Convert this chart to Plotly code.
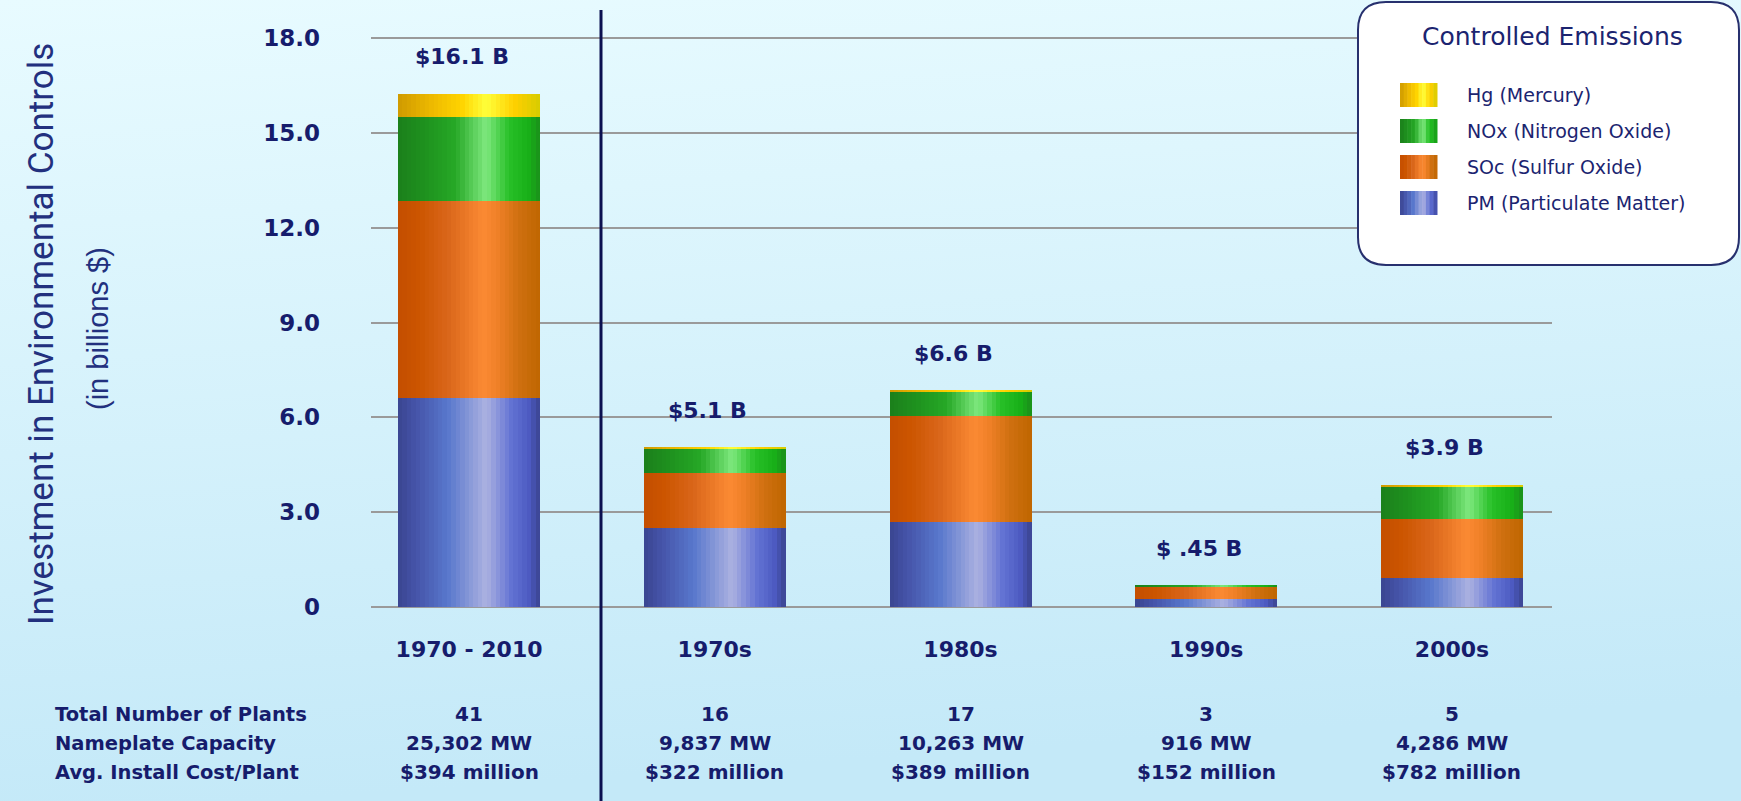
import base64
import numpy as np
import plotly.graph_objects as go

# ---------------- data ----------------
categories = ["1970 - 2010", "1970s", "1980s", "1990s", "2000s"]
pm = [6.60, 2.50, 2.69, 0.26, 0.93]
sox = [6.23, 1.73, 3.35, 0.36, 1.84]
nox = [2.67, 0.78, 0.77, 0.07, 1.04]
hg = [0.73, 0.04, 0.04, 0.00, 0.05]
series_names = ["PM (Particulate Matter)", "SOc (Sulfur Oxide)",
                "NOx (Nitrogen Oxide)", "Hg (Mercury)"]
total_labels = ["$16.1 B", "$5.1 B", "$6.6 B", "$ .45 B", "$3.9 B"]
plants = ["41", "16", "17", "3", "5"]
capacity = ["25,302 MW", "9,837 MW", "10,263 MW", "916 MW", "4,286 MW"]
avg_cost = ["$394 million", "$322 million", "$389 million", "$152 million", "$782 million"]
row_labels = ["Total Number of Plants", "Nameplate Capacity", "Avg. Install Cost/Plant"]
y_tickvals = [0, 3, 6, 9, 12, 15, 18]
y_ticktext = ["0", "3.0", "6.0", "9.0", "12.0", "15.0", "18.0"]
legend_title = "Controlled Emissions"
y_title = "Investment in Environmental Controls"
y_subtitle = "(in billions $)"

# ---------------- layout geometry ----------------
W, H = 1741, 801
L, R, T, B = 371, 189, 33, 189
PW, PH = W - L - R, H - T - B
YPAD = 0.1585  # small padding so the 0 and 18 grid lines are drawn


def pxx(x):
    return (x - L) / PW


def pxy(y):
    return (H - B - y) / PH


NAVY = "#161c6c"
BAR_W = 0.578
K = 32

gradients = [
    [(0, "#3a4590"), (0.12, "#4553a8"), (0.35, "#5877cc"), (0.62, "#abb1e1"),
     (0.80, "#6272d3"), (0.92, "#4d5bc2"), (1, "#3a448f")],
    [(0, "#c44e00"), (0.15, "#cc5500"), (0.35, "#d9661a"), (0.60, "#fb8a33"),
     (0.70, "#f08028"), (0.85, "#cf7010"), (1, "#bf6600")],
    [(0, "#1b7f1b"), (0.20, "#1f931f"), (0.40, "#26a826"), (0.62, "#7ee87e"),
     (0.78, "#28c028"), (0.92, "#18b018"), (1, "#1a8f1a")],
    [(0, "#cf9a00"), (0.25, "#efbb00"), (0.45, "#ffd400"), (0.62, "#ffff3a"),
     (0.82, "#ffd000"), (1, "#d6cc00")],
]
mid_colors = ["#5a6cc4", "#e07020", "#2eae2e", "#f5cc10"]


def hex2rgb(h):
    h = h.lstrip("#")
    return tuple(int(h[i:i + 2], 16) for i in (0, 2, 4))


def interp(stops, f):
    for (f0, c0), (f1, c1) in zip(stops[:-1], stops[1:]):
        if f0 <= f <= f1:
            t = (f - f0) / (f1 - f0) if f1 > f0 else 0
            a, b = hex2rgb(c0), hex2rgb(c1)
            return "rgb(%d,%d,%d)" % tuple(round(a[k] + (b[k] - a[k]) * t) for k in range(3))
    return stops[-1][1]


series = [np.array(pm), np.array(sox), np.array(nox), np.array(hg)]
bases = [np.zeros(len(categories))]
for s in series[:-1]:
    bases.append(bases[-1] + s)
totals = bases[-1] + series[-1]

fig = go.Figure()

# base (real) bars, one trace per emission type
for s, b, name, col in zip(series, bases, series_names, mid_colors):
    fig.add_trace(go.Bar(x=categories, y=s, base=b, name=name, width=BAR_W,
                         marker=dict(color=col, line=dict(width=0)), showlegend=False))

# cylindrical shading slices drawn over the real bars
for s, b, stops in zip(series, bases, gradients):
    for i in range(K):
        f0 = i / K
        fc = (i + 0.5) / K
        w = BAR_W / K * (1.15 if i < K - 1 else 1.0)
        fig.add_trace(go.Bar(x=categories, y=s, base=b,
                             width=w, offset=-BAR_W / 2 + f0 * BAR_W,
                             marker=dict(color=interp(stops, fc), line=dict(width=0)),
                             hoverinfo="skip", showlegend=False))

annotations = []
# total labels above bars
for c, tot, lab in zip(categories, totals, total_labels):
    annotations.append(dict(x=c, y=tot, xref="x", yref="y", text=lab, showarrow=False,
                            yanchor="middle", yshift=37, xshift=-7,
                            font=dict(family="DejaVu Sans", size=22, color=NAVY, weight="bold")))

# table beneath
TABLE_FONT = dict(family="DejaVu Sans", size=19.5, color=NAVY, weight="bold")
VALUE_FONT = dict(family="DejaVu Sans", size=20, color=NAVY, weight="bold")
row_y = [714, 743, 772]
for ry, lab, vals in zip(row_y, row_labels, [plants, capacity, avg_cost]):
    annotations.append(dict(x=pxx(53), y=pxy(ry), xref="paper", yref="paper", text=lab,
                            showarrow=False, xanchor="left", yanchor="middle", font=TABLE_FONT))
    for c, v in zip(categories, vals):
        annotations.append(dict(x=c, y=pxy(ry), xref="x", yref="paper", text=v,
                                showarrow=False, xanchor="center", yanchor="middle", font=VALUE_FONT))

# y-axis titles
annotations.append(dict(x=pxx(42), y=pxy(334), xref="paper", yref="paper", text=y_title,
                        textangle=-90, showarrow=False, xanchor="center", yanchor="middle",
                        font=dict(family="Liberation Sans Narrow, Roboto, sans-serif", size=35, color="#22307e")))
annotations.append(dict(x=pxx(98), y=pxy(329), xref="paper", yref="paper", text=y_subtitle,
                        textangle=-90, showarrow=False, xanchor="center", yanchor="middle",
                        font=dict(family="Liberation Sans, Arial, sans-serif", size=29, color="#22307e")))

shapes = []
# divider line
shapes.append(dict(type="line", xref="paper", yref="paper", x0=pxx(601), x1=pxx(601),
                   y0=pxy(10), y1=pxy(801), line=dict(color="#0b1050", width=3)))

# legend box with rounded corners
bx0, bx1, by0, by1, rad = 1358, 1739, 2, 265, 28


def P(x, y):
    return "%.5f,%.5f" % (pxx(x), pxy(y))


path = ("M " + P(bx0 + rad, by0) + " L " + P(bx1 - rad, by0) +
        " Q " + P(bx1, by0) + " " + P(bx1, by0 + rad) +
        " L " + P(bx1, by1 - rad) + " Q " + P(bx1, by1) + " " + P(bx1 - rad, by1) +
        " L " + P(bx0 + rad, by1) + " Q " + P(bx0, by1) + " " + P(bx0, by1 - rad) +
        " L " + P(bx0, by0 + rad) + " Q " + P(bx0, by0) + " " + P(bx0 + rad, by0) + " Z")
shapes.append(dict(type="path", xref="paper", yref="paper", path=path,
                   fillcolor="white", line=dict(color="#27306e", width=2)))

annotations.append(dict(x=pxx(1552), y=pxy(37), xref="paper", yref="paper", text=legend_title,
                        showarrow=False, xanchor="center", yanchor="middle",
                        font=dict(family="DejaVu Sans", size=25, color="#1b2470")))

legend_rows = [95, 131, 167, 203]  # Hg, NOx, SOc, PM (top to bottom)
for idx, ry in zip([3, 2, 1, 0], legend_rows):
    sx0, sx1 = 1400, 1437
    KS = 10
    for i in range(KS):
        a = sx0 + (sx1 - sx0) * i / KS
        b2 = sx0 + (sx1 - sx0) * (i + 1) / KS + 0.5
        shapes.append(dict(type="rect", xref="paper", yref="paper",
                           x0=pxx(a), x1=pxx(b2), y0=pxy(ry - 12), y1=pxy(ry + 12),
                           fillcolor=interp(gradients[idx], (i + 0.5) / KS), line=dict(width=0)))
    annotations.append(dict(x=pxx(1465), y=pxy(ry), xref="paper", yref="paper",
                            text=series_names[idx], showarrow=False, xanchor="left", yanchor="middle",
                            font=dict(family="DejaVu Sans", size=19, color="#1b2470")))

# background gradient
svg = ('<svg xmlns="http://www.w3.org/2000/svg" width="%d" height="%d" preserveAspectRatio="none">'
       '<defs><linearGradient id="g" x1="0" y1="0" x2="0.15" y2="1">'
       '<stop offset="0" stop-color="#e8fbff"/><stop offset="1" stop-color="#c4e9f8"/>'
       '</linearGradient></defs><rect width="100%%" height="100%%" fill="url(#g)"/></svg>') % (W, H)
bg_src = "data:image/svg+xml;base64," + base64.b64encode(svg.encode()).decode()

fig.update_layout(
    width=W, height=H, autosize=False,
    margin=dict(l=L, r=R, t=T, b=B, pad=0),
    barmode="overlay", bargap=0,
    paper_bgcolor="#d6f1fb", plot_bgcolor="rgba(0,0,0,0)",
    showlegend=False,
    images=[dict(source=bg_src, xref="paper", yref="paper", x=pxx(0), y=pxy(0),
                 sizex=W / PW, sizey=H / PH, sizing="stretch",
                 xanchor="left", yanchor="top", layer="below")],
    shapes=shapes, annotations=annotations,
    xaxis=dict(type="category", range=[-0.399, 4.407], showgrid=False, zeroline=False,
               showline=False, ticks="", ticklabelstandoff=22, fixedrange=True,
               tickfont=dict(family="DejaVu Sans", size=22, color=NAVY, weight="bold")),
    yaxis=dict(range=[-YPAD, 18 + YPAD], tickvals=y_tickvals, ticktext=y_ticktext, showgrid=True,
               gridcolor="#9a9a9a", gridwidth=2, zeroline=False, showline=False, ticks="",
               ticklabelstandoff=50, fixedrange=True,
               tickfont=dict(family="DejaVu Sans", size=23, color=NAVY, weight="bold")),
)

fig.write_html("out.html", config={"displayModeBar": False})
